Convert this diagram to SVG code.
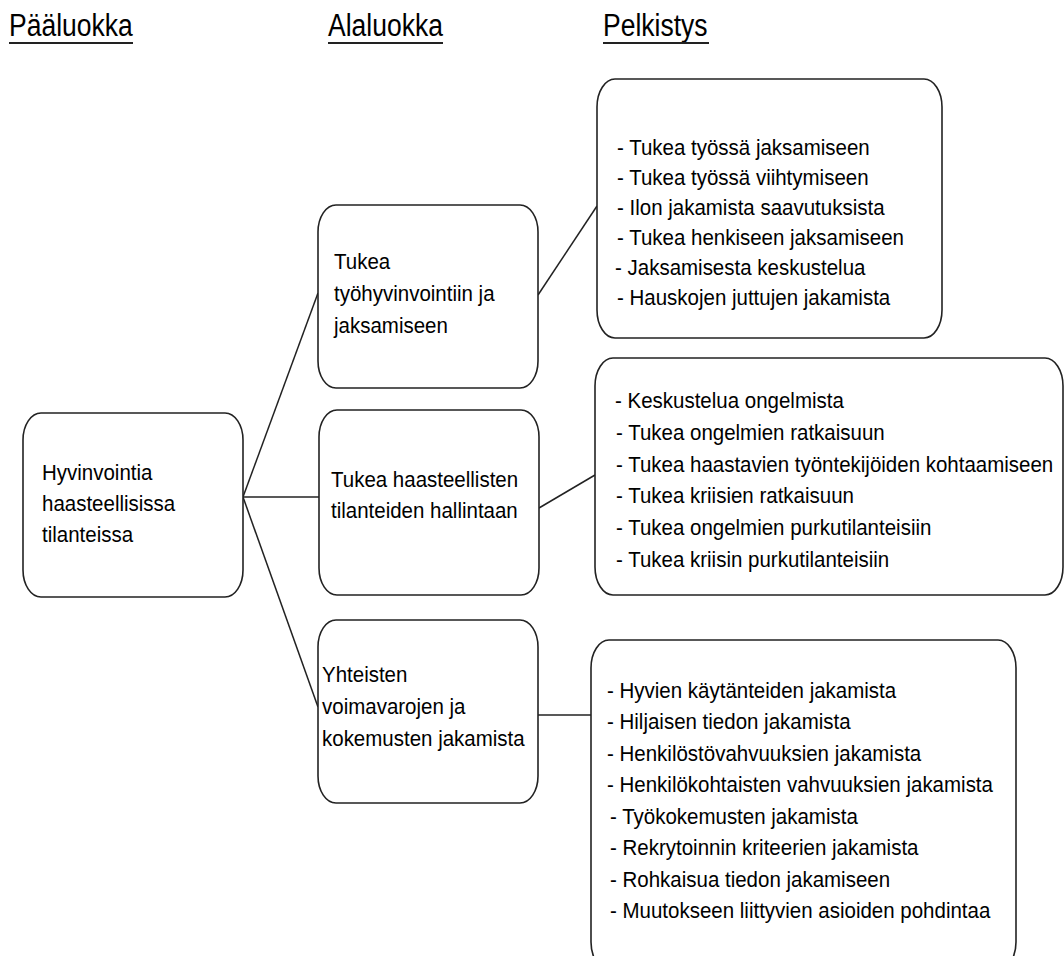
<svg xmlns="http://www.w3.org/2000/svg" width="1064" height="956" viewBox="0 0 1064 956">
<style>
.box{fill:#fff;stroke:#222;stroke-width:1.6}
.con{stroke:#222;stroke-width:1.5;fill:none}
.t{font-family:"Liberation Sans",Arial,sans-serif;font-size:20.5px;fill:#000}
.h{font-family:"Liberation Sans",Arial,sans-serif;font-size:26.5px;fill:#000}
.ul{stroke:#222;stroke-width:2}
</style>
<rect width="1064" height="956" fill="#fff"/>
<g id="headers">
<text class="h" transform="matrix(1 0 0 1.2 9 36)">Pääluokka</text>
<line class="ul" x1="9" y1="43" x2="133" y2="43"/>
<text class="h" transform="matrix(1 0 0 1.2 328 36)">Alaluokka</text>
<line class="ul" x1="328" y1="43" x2="443" y2="43"/>
<text class="h" transform="matrix(1 0 0 1.2 603 36)">Pelkistys</text>
<line class="ul" x1="603" y1="43" x2="709" y2="43"/>
</g>
<g id="connectors">
<line class="con" x1="243" y1="497" x2="318" y2="293"/>
<line class="con" x1="243" y1="497" x2="319" y2="497"/>
<line class="con" x1="243" y1="497" x2="318" y2="707"/>
<line class="con" x1="538" y1="295" x2="597" y2="206"/>
<line class="con" x1="539" y1="508" x2="595" y2="475"/>
<line class="con" x1="538" y1="715" x2="591" y2="715"/>
</g>
<g id="main">
<rect class="box" x="23" y="413" width="220" height="184" rx="18" ry="27"/>
<text class="t" transform="matrix(1 0 0 1.1 42 480)">Hyvinvointia</text>
<text class="t" transform="matrix(1 0 0 1.1 42 511)">haasteellisissa</text>
<text class="t" transform="matrix(1 0 0 1.1 42 542)">tilanteissa</text>
</g>
<g id="sub1">
<rect class="box" x="318" y="205" width="220" height="183" rx="18" ry="27"/>
<text class="t" transform="matrix(1 0 0 1.1 334 269)">Tukea</text>
<text class="t" transform="matrix(1 0 0 1.1 334 301)">työhyvinvointiin ja</text>
<text class="t" transform="matrix(1 0 0 1.1 334 333)">jaksamiseen</text>
</g>
<g id="sub2">
<rect class="box" x="319" y="410" width="220" height="185" rx="18" ry="27"/>
<text class="t" transform="matrix(1 0 0 1.1 331 487)">Tukea haasteellisten</text>
<text class="t" transform="matrix(1 0 0 1.1 331 518)">tilanteiden hallintaan</text>
</g>
<g id="sub3">
<rect class="box" x="318" y="620" width="220" height="183" rx="18" ry="27"/>
<text class="t" transform="matrix(1 0 0 1.1 322 682)">Yhteisten</text>
<text class="t" transform="matrix(1 0 0 1.1 322 714)">voimavarojen ja</text>
<text class="t" transform="matrix(1 0 0 1.1 322 746)">kokemusten jakamista</text>
</g>
<g id="list1">
<rect class="box" x="597" y="79" width="345" height="259" rx="18" ry="28"/>
<text class="t" transform="matrix(1 0 0 1.1 617 155)">- Tukea työssä jaksamiseen</text>
<text class="t" transform="matrix(1 0 0 1.1 617 185)">- Tukea työssä viihtymiseen</text>
<text class="t" transform="matrix(1 0 0 1.1 617 215)">- Ilon jakamista saavutuksista</text>
<text class="t" transform="matrix(1 0 0 1.1 617 245)">- Tukea henkiseen jaksamiseen</text>
<text class="t" transform="matrix(1 0 0 1.1 615 275)">- Jaksamisesta keskustelua</text>
<text class="t" transform="matrix(1 0 0 1.1 617 305)">- Hauskojen juttujen jakamista</text>
</g>
<g id="list2">
<rect class="box" x="595" y="358" width="468" height="237" rx="18" ry="28"/>
<text class="t" transform="matrix(1 0 0 1.1 615 408)">- Keskustelua ongelmista</text>
<text class="t" transform="matrix(1 0 0 1.1 616 440)">- Tukea ongelmien ratkaisuun</text>
<text class="t" transform="matrix(1 0 0 1.1 616 472)">- Tukea haastavien työntekijöiden kohtaamiseen</text>
<text class="t" transform="matrix(1 0 0 1.1 616 503)">- Tukea kriisien ratkaisuun</text>
<text class="t" transform="matrix(1 0 0 1.1 616 535)">- Tukea ongelmien purkutilanteisiin</text>
<text class="t" transform="matrix(1 0 0 1.1 616 567)">- Tukea kriisin purkutilanteisiin</text>
</g>
<g id="list3">
<rect class="box" x="591" y="640" width="425" height="330" rx="18" ry="28"/>
<text class="t" transform="matrix(1 0 0 1.1 607 698)">- Hyvien käytänteiden jakamista</text>
<text class="t" transform="matrix(1 0 0 1.1 607 729)">- Hiljaisen tiedon jakamista</text>
<text class="t" transform="matrix(1 0 0 1.1 607 761)">- Henkilöstövahvuuksien jakamista</text>
<text class="t" transform="matrix(1 0 0 1.1 607 792)">- Henkilökohtaisten vahvuuksien jakamista</text>
<text class="t" transform="matrix(1 0 0 1.1 610 824)">- Työkokemusten jakamista</text>
<text class="t" transform="matrix(1 0 0 1.1 610 855)">- Rekrytoinnin kriteerien jakamista</text>
<text class="t" transform="matrix(1 0 0 1.1 610 887)">- Rohkaisua tiedon jakamiseen</text>
<text class="t" transform="matrix(1 0 0 1.1 610 918)">- Muutokseen liittyvien asioiden pohdintaa</text>
</g>
</svg>
